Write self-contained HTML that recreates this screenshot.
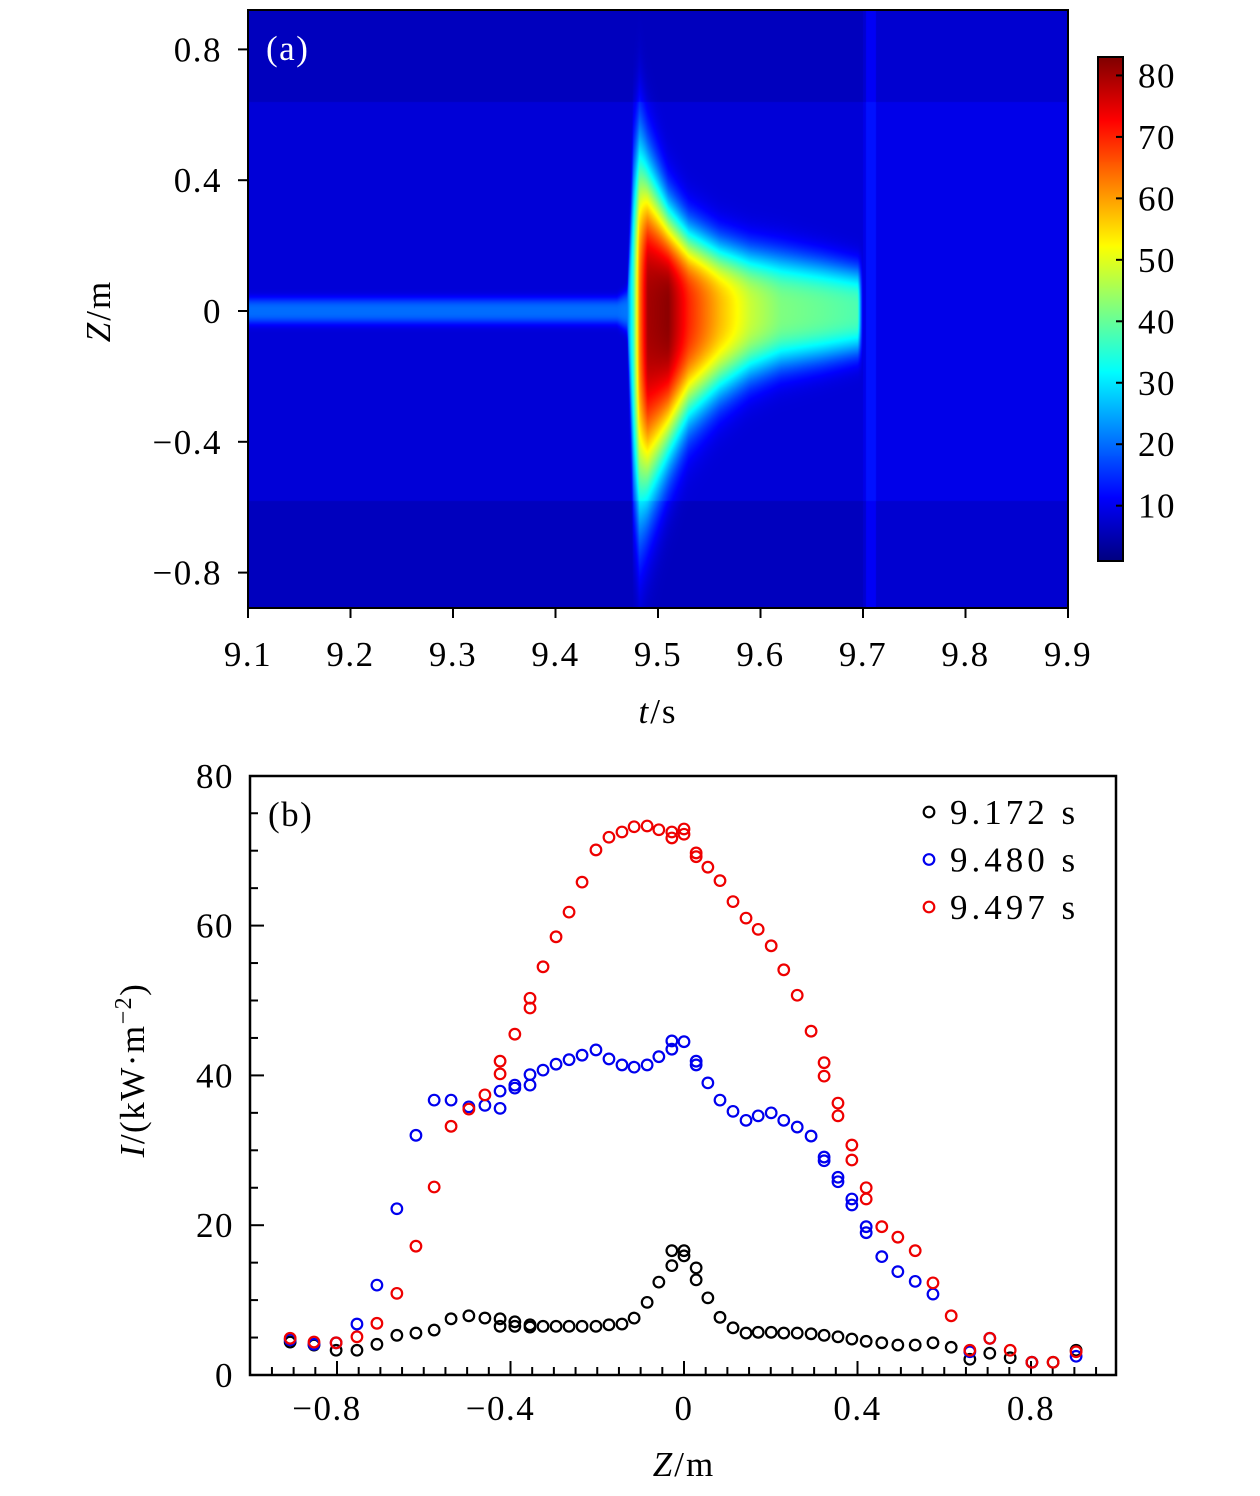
<!DOCTYPE html>
<html><head><meta charset="utf-8"><style>
body{margin:0;background:#fff;}
#wrap{position:relative;width:1260px;height:1496px;overflow:hidden;background:#fff;font-family:"Liberation Serif",serif;}
canvas{position:absolute;}
svg{position:absolute;left:0;top:0;}
text{font-family:"Liberation Serif",serif;fill:#000;}
</style></head><body>
<div id="wrap">
<canvas id="heat" width="820" height="598" style="left:248px;top:10px"></canvas>
<canvas id="cbar" width="25" height="504" style="left:1098px;top:57px"></canvas>
<svg id="svg" width="1260" height="1496"></svg>
</div>
<script>
// ---- Panel (a) heatmap profile data ----
const heatTimes = [9.10, 9.46, 9.47, 9.476, 9.482, 9.49, 9.51, 9.53, 9.56, 9.59, 9.62, 9.66, 9.695, 9.70];
const heatAmp   = [12, 12, 13, 28, 55, 72, 74, 62, 50, 40, 34, 32, 30, 0];
const heatWUp   = [0.04, 0.04, 0.06, 0.45, 0.5, 0.42, 0.3, 0.24, 0.2, 0.18, 0.17, 0.15, 0.13, 0.13];
const heatWLow  = [0.04, 0.04, 0.06, 0.55, 0.62, 0.55, 0.42, 0.32, 0.25, 0.2, 0.17, 0.15, 0.13, 0.13];
const heatBg = 8;
const cbarTicks = [10, 20, 30, 40, 50, 60, 70, 80];
const tTicks = [9.1, 9.2, 9.3, 9.4, 9.5, 9.6, 9.7, 9.8, 9.9];
const zTicksA = [0.8, 0.4, 0, -0.4, -0.8];

// ---- Panel (b) scatter data ----
const zBlack = [-0.908,-0.853,-0.802,-0.754,-0.708,-0.662,-0.618,-0.576,-0.537,-0.496,-0.459,-0.424,-0.424,-0.390,-0.390,-0.355,-0.355,-0.325,-0.295,-0.265,-0.235,-0.203,-0.173,-0.143,-0.115,-0.085,-0.058,-0.028,-0.028,0,0,0.028,0.028,0.055,0.083,0.113,0.143,0.171,0.201,0.230,0.261,0.293,0.323,0.355,0.387,0.420,0.456,0.493,0.533,0.574,0.616,0.659,0.705,0.752,0.802,0.851,0.904];
const iBlack = [4.4,4.0,3.3,3.3,4.1,5.3,5.6,6.0,7.5,7.9,7.6,7.5,6.5,7.1,6.5,6.7,6.4,6.5,6.5,6.5,6.5,6.5,6.7,6.8,7.6,9.7,12.4,14.6,16.6,16.6,15.9,14.3,12.7,10.3,7.7,6.3,5.6,5.7,5.7,5.6,5.6,5.5,5.3,5.1,4.8,4.5,4.3,4.0,4.0,4.3,3.7,2.1,2.9,2.3,1.7,1.7,3.3];
const zBlue = [-0.908,-0.853,-0.802,-0.754,-0.708,-0.662,-0.618,-0.576,-0.537,-0.496,-0.459,-0.424,-0.424,-0.390,-0.390,-0.355,-0.355,-0.325,-0.295,-0.265,-0.235,-0.203,-0.173,-0.143,-0.115,-0.085,-0.058,-0.028,-0.028,0,0.028,0.028,0.055,0.083,0.113,0.143,0.171,0.201,0.230,0.261,0.293,0.323,0.323,0.355,0.355,0.387,0.387,0.420,0.420,0.456,0.493,0.533,0.574,0.659,0.705,0.802,0.904];
const iBlue = [4.7,4.1,4.3,6.8,12.0,22.2,32.0,36.7,36.7,35.8,36.0,35.6,37.9,38.3,38.7,38.7,40.1,40.7,41.5,42.1,42.7,43.4,42.2,41.4,41.1,41.4,42.5,43.5,44.6,44.5,41.9,41.4,39.0,36.7,35.2,34.0,34.6,35.0,34.0,33.1,31.9,29.1,28.6,26.4,25.8,23.5,22.7,19.8,19.0,15.8,13.8,12.5,10.8,3.1,4.9,1.7,2.5];
const zRed = [-0.908,-0.853,-0.802,-0.754,-0.708,-0.662,-0.618,-0.576,-0.537,-0.496,-0.459,-0.424,-0.424,-0.390,-0.355,-0.355,-0.325,-0.295,-0.265,-0.235,-0.203,-0.173,-0.143,-0.115,-0.085,-0.058,-0.028,-0.028,0,0,0.028,0.028,0.055,0.083,0.113,0.143,0.171,0.201,0.230,0.261,0.293,0.323,0.323,0.355,0.355,0.387,0.387,0.420,0.420,0.456,0.493,0.533,0.574,0.616,0.659,0.705,0.752,0.802,0.851,0.904];
const iRed = [4.9,4.4,4.3,5.1,6.9,10.9,17.2,25.1,33.2,35.5,37.4,40.2,41.9,45.5,49.0,50.3,54.5,58.5,61.8,65.8,70.1,71.8,72.5,73.2,73.3,72.8,72.5,71.7,72.9,72.2,69.7,69.2,67.8,66.0,63.2,61.0,59.5,57.3,54.1,50.7,45.9,41.7,39.9,36.3,34.6,30.7,28.7,25.0,23.5,19.8,18.4,16.6,12.3,7.9,3.3,4.9,3.3,1.7,1.7,3.1];
const xTicksB = [-0.8, -0.4, 0, 0.4, 0.8];
const yTicksB = [0, 20, 40, 60, 80];
const legendLabels = ["9.172 s", "9.480 s", "9.497 s"];

function jet(v){
  const f=x=>Math.max(0,Math.min(1,x));
  const r=f(Math.min(4*v-1.5,-4*v+4.5)), g=f(Math.min(4*v-0.5,-4*v+3.5)), b=f(Math.min(4*v+0.5,-4*v+2.5));
  return [r*255,g*255,b*255];
}
const vmin=1, vmax=83;
const tx=t=>248+(t-9.1)/0.1*102.5;
const zy=z=>311-z*327;
function interp(arr,t){
  if(t<=heatTimes[0]) return arr[0];
  for(let i=0;i<heatTimes.length-1;i++){
    if(t<=heatTimes[i+1]){const u=(t-heatTimes[i])/(heatTimes[i+1]-heatTimes[i]);return arr[i]+(arr[i+1]-arr[i])*u;}
  }
  return 0;
}
(function(){
  const c=document.getElementById('heat'),ctx=c.getContext('2d');
  const W=c.width,H=c.height,img=ctx.createImageData(W,H);
  for(let px=0;px<W;px++){
    const t=9.1+(px+0.5)/102.5*0.1;
    const amp=t>9.70?0:interp(heatAmp,t), wu=interp(heatWUp,t), wl=interp(heatWLow,t);
    for(let py=0;py<H;py++){
      const z=(311-(py+10+0.5))/327;
      let bg=heatBg;
      if(z>0.64||z<-0.58) bg-=2;
      if(t>9.70) bg+=1.5;
      if(t>9.703&&t<9.713) bg+=3;
      const w=z>=0?wu:wl;
      const d=Math.abs(z/w);
      const v=bg+amp*Math.exp(-d*d*d);
      const col=jet((v-vmin)/(vmax-vmin));
      const k=(py*W+px)*4;
      img.data[k]=col[0];img.data[k+1]=col[1];img.data[k+2]=col[2];img.data[k+3]=255;
    }
  }
  ctx.putImageData(img,0,0);
  const cb=document.getElementById('cbar'),cx=cb.getContext('2d');
  for(let py=0;py<cb.height;py++){
    const v=vmax-(py+0.5)/cb.height*(vmax-vmin);
    const col=jet((v-vmin)/(vmax-vmin));
    cx.fillStyle=`rgb(${col[0]|0},${col[1]|0},${col[2]|0})`;cx.fillRect(0,py,25,1);
  }
})();

const NS='http://www.w3.org/2000/svg';
const svg=document.getElementById('svg');
function el(tag,attrs,parent){const e=document.createElementNS(NS,tag);for(const k in attrs)e.setAttribute(k,attrs[k]);(parent||svg).appendChild(e);return e;}
function txt(s,x,y,attrs){const e=el('text',Object.assign({x:x,y:y,'font-size':35,'letter-spacing':1.5},attrs||{}));e.textContent=s;return e;}

let f=el('rect',{x:248,y:10,width:820,height:598,fill:'none',stroke:'#000','stroke-width':2});

tTicks.forEach(t=>{
  const l=el('line',{x1:tx(t),x2:tx(t),y1:608,y2:618,stroke:'#000','stroke-width':2});
  
  const s=txt(t.toFixed(1),tx(t),666,{'text-anchor':'middle'});
  
});
zTicksA.forEach(z=>{
  const l=el('line',{x1:238,x2:248,y1:zy(z),y2:zy(z),stroke:'#000','stroke-width':2});
  
  const lab=z===0?'0':(z<0?'\u2212'+Math.abs(z).toFixed(1):z.toFixed(1));
  const s=txt(lab,222,zy(z)+12,{'text-anchor':'end'});
  
});
let pa=txt('(a)',266,60);pa.style.fill='#fff';

let xla=el('text',{x:658,y:723,'font-size':35,'text-anchor':'middle','letter-spacing':2});xla.innerHTML='<tspan font-style="italic">t</tspan>/s';

let yla=el('text',{x:0,y:0,'font-size':35,'text-anchor':'middle','letter-spacing':2,transform:'translate(110,311) rotate(-90)'});yla.innerHTML='<tspan font-style="italic">Z</tspan>/m';

let cbf=el('rect',{x:1098,y:57,width:25,height:504,fill:'none',stroke:'#000','stroke-width':2});

const cby=v=>57+(vmax-v)/(vmax-vmin)*504;
cbarTicks.forEach(v=>{
  const l=el('line',{x1:1116,x2:1123,y1:cby(v),y2:cby(v),stroke:'#000','stroke-width':2});
  
  const s=txt(String(v),1138,cby(v)+12);
  
});

const bx=z=>684+z*433.75;
const by=i=>1375-i*7.49;
let fb=el('rect',{x:250,y:776,width:866,height:599,fill:'none',stroke:'#000','stroke-width':2.5});

for(let k=-19;k<=19;k++){
  const z=k*0.05;const x=bx(z);if(x<252||x>1114)continue;
  const major=k%8===0;
  const l=el('line',{x1:x,x2:x,y1:1375,y2:1375-(major?14:8),stroke:'#000','stroke-width':2});
  
}
for(let k=1;k<16;k++){
  const i=k*5;const major=k%4===0;
  const l=el('line',{x1:250,x2:250+(major?14:8),y1:by(i),y2:by(i),stroke:'#000','stroke-width':2});
  
}
xTicksB.forEach(z=>{
  const lab=z===0?'0':(z<0?'\u2212'+Math.abs(z).toFixed(1):z.toFixed(1));
  const s=txt(lab,bx(z)-(z<0?10:0),1420,{'text-anchor':'middle'});
  
});
yTicksB.forEach(i=>{
  const s=txt(String(i),234,by(i)+12,{'text-anchor':'end'});
  
});
let pb=txt('(b)',268,826);
let xlb=el('text',{x:684,y:1476,'font-size':35,'text-anchor':'middle','letter-spacing':2});xlb.innerHTML='<tspan font-style="italic">Z</tspan>/m';

let ylb=el('text',{x:0,y:0,'font-size':35,'text-anchor':'middle','letter-spacing':1.5,transform:'translate(144,1070) rotate(-90)'});
ylb.innerHTML='<tspan font-style="italic">I</tspan>/(kW·m<tspan baseline-shift="super" font-size="24">\u22122</tspan>)';


function series(zs,is,color,name){
  const g=el('g',{});
  
  zs.forEach((z,k)=>{
    const c=el('circle',{cx:bx(z),cy:by(is[k]),r:5.3,fill:'none',stroke:color,'stroke-width':2.2},g);
    
  });
}
series(zBlack,iBlack,'#000','series-9172');
series(zBlue,iBlue,'#0000ee','series-9480');
series(zRed,iRed,'#ee0000','series-9497');
const legCols=['#000','#0000ee','#ee0000'];
legendLabels.forEach((s,k)=>{
  const y=812+k*47.5;
  const c=el('circle',{cx:929,cy:y,r:5.3,fill:'none',stroke:legCols[k],'stroke-width':2.2});
  
  const t=txt(s,950,y+12,{'letter-spacing':4});
  
});
</script>
</body></html>
